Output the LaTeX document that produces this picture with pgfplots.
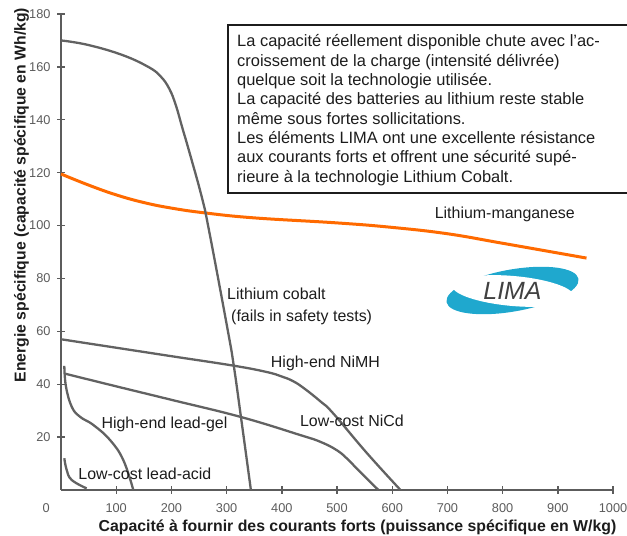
\documentclass[border=0pt]{standalone}
\usepackage{fontspec}
\setmainfont{Liberation Sans}
\usepackage{pgfplots}
\pgfplotsset{compat=1.18}
\definecolor{crv}{HTML}{626262}
\definecolor{org}{HTML}{FF6A00}
\definecolor{axc}{HTML}{5C5C5C}
\definecolor{lima}{HTML}{1FA8CE}
\definecolor{txt}{HTML}{1C1C1C}
\begin{document}
\begin{tikzpicture}[x=1bp,y=1bp]
\begin{axis}[
  at={(0,0)}, anchor=south west,
  scale only axis, width=552bp, height=476bp,
  xmin=0, xmax=1000, ymin=0, ymax=180,
  axis x line*=bottom, axis y line*=left,
  xtick={100,200,...,1000}, ytick={20,40,...,180},
  xticklabels={},
  tick align=center, major tick length=8bp,
  axis line style={axc, line width=1.6bp},
  tick style={axc, line width=1.4bp},
  ticklabel style={font=\fontsize{12.8}{14}\selectfont, text=axc},
  yticklabel style={xshift=-3bp},
  /pgf/number format/assume math mode=true,
  /pgf/number format/1000 sep={},
  clip=false,
  gl/.style={crv, line width=2.3bp, smooth, tension=0.7, mark=none},
]
% Lithium-manganese
\addplot[org, line width=3bp, smooth, tension=0.7, mark=none] coordinates {(0,119.5)(50,115.3)(100,111.6)(150,108.7)(200,106.6)(260,104.8)(350,102.9)(500,101)(600,99.3)(700,96.9)(800,93.3)(952,87.7)};
% Lithium cobalt
\addplot[gl] coordinates {(0,170)(49,168.3)(111,164.5)(158,160)(180,156.5)(196,151.8)(208,145.5)(220,136.8)(232,128.2)(255,110.8)(268,98.3)(302,60.5)(313,47)(326,27.6)(344,0)};
% NiMH
\addplot[gl] coordinates {(0,57)(100,53.8)(200,50.6)(313,47)(373,44.6)(400,42.9)(420,41.2)(440,38.5)(470,33.5)(493,29)(554,14)(615,0)};
% NiCd
\addplot[gl] coordinates {(7,44)(100,39.2)(200,34.1)(326,27.6)(433,20.8)(470,18.2)(500,15)(520,11.5)(540,7.2)(575,0)};
% lead-gel
\addplot[gl] coordinates {(6,46.9)(9,39.1)(19.4,31.5)(34.4,27.7)(58.5,24.6)(88.8,18.9)(112.9,11.3)(131,0)};
% lead-acid
\addplot[gl] coordinates {(6,12)(10.3,7.6)(19.4,3.8)(46.5,0.6)};

\pgfplotsinvokeforeach{100,200,300,400,500,600,700,800,900,1000}{
  \node[font=\fontsize{12.8}{14}\selectfont, text=axc] at (axis cs:#1,-6.9) {#1};
}
\node[font=\fontsize{12.8}{14}\selectfont, text=axc] at (axis cs:-27,-6.9) {0};
\node[font=\fontsize{16}{19}\selectfont, text=txt] at (axis cs:804,104.4) {Lithium-manganese};
\node[font=\fontsize{16}{19}\selectfont, text=txt, anchor=west, inner sep=0] at (axis cs:300.7,74.1) {Lithium cobalt};
\node[font=\fontsize{16}{19}\selectfont, text=txt, anchor=west, inner sep=0] at (axis cs:308,65.4) {(fails in safety tests)};
\node[font=\fontsize{16}{19}\selectfont, text=txt, anchor=west, inner sep=0] at (axis cs:380,48.0) {High-end NiMH};
\node[font=\fontsize{16}{19}\selectfont, text=txt] at (axis cs:527,26.1) {Low-cost NiCd};
\node[font=\fontsize{16}{19}\selectfont, text=txt] at (axis cs:187.5,25.0) {High-end lead-gel};
\node[font=\fontsize{16}{19}\selectfont, text=txt] at (axis cs:152,6.05) {Low-cost lead-acid};
\end{axis}
% axis labels
\node[font=\bfseries\fontsize{15.9}{18}\selectfont, text=txt, anchor=base, inner sep=0] at (296.5,-42) {Capacité à fournir des courants forts (puissance spécifique en W/kg)};
\node[font=\bfseries\fontsize{15.8}{18}\selectfont, text=txt, anchor=base, inner sep=0, rotate=90] at (-35.3,295) {Energie spécifique (capacité spécifique en Wh/kg)};
% text box
\draw[line width=1.1bp, txt] (167,297) rectangle (580,465);
\begin{scope}[every node/.style={font=\fontsize{16.5}{19}\selectfont, text=txt, anchor=base west, inner sep=0}]
\node at (176,443.0) {La capacité réellement disponible chute avec l’ac-};
\node at (176,423.7) {croissement de la charge (intensité délivrée)};
\node at (176,404.4) {quelque soit la technologie utilisée.};
\node at (176,385.1) {La capacité des batteries au lithium reste stable};
\node at (176,365.8) {même sous fortes sollicitations.};
\node at (176,346.5) {Les éléments LIMA ont une excellente résistance};
\node at (176,327.2) {aux courants forts et offrent une sécurité supé-};
\node at (176,307.9) {rieure à la technologie Lithium Cobalt.};
\end{scope}
% LIMA logo
\fill[lima, rotate around={10:(451.5,199.5)}] (451.5,199.5) ellipse [x radius=67, y radius=21];
\fill[white, rotate around={-5:(452,199)}] (452,199) ellipse [x radius=61, y radius=15];
\node[font=\itshape\fontsize{25}{25}\selectfont, text=axc!70!black] at (451.5,199) {LIMA};
\pgfresetboundingbox
\path (-61,-46) rectangle (566,490);
\end{tikzpicture}
\end{document}
